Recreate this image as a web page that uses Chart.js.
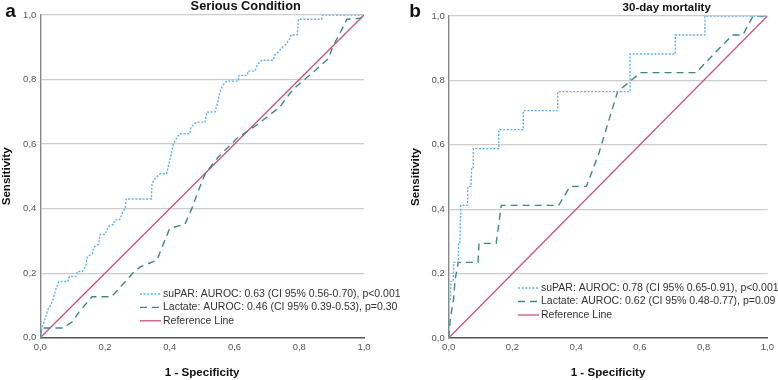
<!DOCTYPE html>
<html>
<head>
<meta charset="utf-8">
<script src="https://cdn.jsdelivr.net/npm/chart.js@4.4.1/dist/chart.umd.min.js"></script>
<style>
  html, body { margin: 0; padding: 0; background: #fff; }
  #wrap { position: relative; width: 778px; height: 380px; overflow: hidden; }
  canvas { position: absolute; top: 0; }
  #chartA { left: 0; }
  #chartB { left: 389px; }
</style>
</head>
<body>
<div id="wrap">
  <canvas id="chartA" width="430" height="380"></canvas>
  <canvas id="chartB" width="389" height="380"></canvas>
</div>
<script>
// ---- Data (1 - specificity, sensitivity) ----
const tickValues = [0, 0.2, 0.4, 0.6, 0.8, 1.0];
const tickLabels = ['0,0', '0,2', '0,4', '0,6', '0,8', '1,0'];

const seriousSuparFpr = [0, 0.005, 0.012, 0.018, 0.025, 0.032, 0.04, 0.048, 0.057, 0.085, 0.09, 0.11, 0.115, 0.13, 0.14, 0.145, 0.16, 0.165, 0.18, 0.185, 0.2, 0.21, 0.225, 0.23, 0.245, 0.255, 0.262, 0.265, 0.343, 0.345, 0.354, 0.37, 0.39, 0.4, 0.406, 0.411, 0.43, 0.462, 0.465, 0.483, 0.509, 0.514, 0.54, 0.548, 0.555, 0.563, 0.576, 0.612, 0.614, 0.64, 0.642, 0.663, 0.67, 0.684, 0.72, 0.725, 0.735, 0.746, 0.76, 0.771, 0.775, 0.794, 0.797, 0.869, 0.872, 1];
const seriousSuparTpr = [0, 0.03, 0.05, 0.07, 0.09, 0.10, 0.12, 0.15, 0.174, 0.174, 0.19, 0.19, 0.205, 0.205, 0.22, 0.25, 0.26, 0.28, 0.29, 0.32, 0.32, 0.345, 0.35, 0.365, 0.365, 0.39, 0.40, 0.43, 0.43, 0.477, 0.493, 0.508, 0.508, 0.55, 0.575, 0.601, 0.632, 0.632, 0.653, 0.668, 0.668, 0.699, 0.70, 0.73, 0.761, 0.782, 0.795, 0.795, 0.813, 0.813, 0.826, 0.826, 0.845, 0.86, 0.86, 0.877, 0.885, 0.898, 0.91, 0.927, 0.939, 0.939, 0.987, 0.987, 1.0, 1];

const seriousLactateFpr = [0, 0.003, 0.03, 0.07, 0.1, 0.12, 0.16, 0.22, 0.25, 0.29, 0.31, 0.36, 0.38, 0.40, 0.447, 0.468, 0.49, 0.51, 0.55, 0.58, 0.61, 0.67, 0.74, 0.77, 0.79, 0.84, 0.89, 0.905, 0.926, 0.947, 0.99, 1];
const seriousLactateTpr = [0, 0.03, 0.03, 0.03, 0.05, 0.08, 0.127, 0.127, 0.16, 0.205, 0.22, 0.24, 0.29, 0.339, 0.352, 0.40, 0.46, 0.51, 0.56, 0.59, 0.62, 0.66, 0.715, 0.756, 0.778, 0.82, 0.865, 0.905, 0.944, 0.987, 0.99, 1];

const mortalitySuparFpr = [0, 0, 0.005, 0.007, 0.014, 0.016, 0.03, 0.031, 0.035, 0.038, 0.059, 0.06, 0.07, 0.072, 0.077, 0.0775, 0.157, 0.157, 0.234, 0.234, 0.342, 0.342, 0.569, 0.569, 0.711, 0.711, 0.804, 0.804, 1];
const mortalitySuparTpr = [0, 0.118, 0.118, 0.176, 0.176, 0.235, 0.235, 0.294, 0.294, 0.412, 0.412, 0.471, 0.471, 0.529, 0.529, 0.588, 0.588, 0.647, 0.647, 0.706, 0.706, 0.765, 0.765, 0.882, 0.882, 0.941, 0.941, 1, 1];

const mortalityLactateFpr = [0, 0.005, 0.015, 0.02, 0.03, 0.092, 0.095, 0.149, 0.165, 0.345, 0.381, 0.432, 0.47, 0.53, 0.56, 0.602, 0.776, 0.83, 0.891, 0.923, 0.955, 1];
const mortalityLactateTpr = [0, 0.06, 0.118, 0.18, 0.235, 0.235, 0.294, 0.294, 0.412, 0.412, 0.471, 0.471, 0.57, 0.765, 0.79, 0.824, 0.824, 0.88, 0.941, 0.941, 1.0, 1];

const referenceFpr = [0, 1];
const referenceTpr = [0, 1];

const seriousLabels = [
  'suPAR: AUROC: 0.63 (CI 95% 0.56-0.70), p<0.001',
  'Lactate: AUROC: 0.46 (CI 95% 0.39-0.53), p=0.30',
  'Reference Line'
];
const mortalityLabels = [
  'suPAR: AUROC: 0.78 (CI 95% 0.65-0.91), p<0.001',
  'Lactate: AUROC: 0.62 (CI 95% 0.48-0.77), p=0.09',
  'Reference Line'
];

const FONT = '"Liberation Sans", Arial, sans-serif';
const SUPAR_COLOR = '#58b2f0';
const LACTATE_COLOR = '#3b8a7c';
const REF_COLOR = '#c9517f';

const toPoints = (xs, ys) => xs.map((x, i) => ({ x: x, y: ys[i] }));

// Title, panel letter and the in-plot legend
const panelDecor = {
  id: 'panelDecor',
  afterDraw(chart, args, opts) {
    const ctx = chart.ctx;
    ctx.save();
    ctx.fillStyle = '#111';
    ctx.textBaseline = 'alphabetic';
    ctx.textAlign = 'center';
    ctx.font = `bold ${opts.titleSize}px ${FONT}`;
    ctx.fillText(opts.title, opts.titleX, opts.titleY);

    ctx.font = `bold 19px ${FONT}`;
    ctx.fillText(opts.letter, opts.letterX, opts.letterY);

    // legend
    ctx.textAlign = 'left';
    ctx.textBaseline = 'middle';
    ctx.font = `10.5px ${FONT}`;
    chart.data.datasets.forEach((ds, i) => {
      const y = opts.legendY + i * opts.legendGap;
      ctx.save();
      ctx.strokeStyle = ds.borderColor;
      ctx.lineWidth = ds.borderWidth;
      ctx.setLineDash(ds.borderDash || []);
      ctx.beginPath();
      ctx.moveTo(opts.legendX, y);
      ctx.lineTo(opts.legendX + 21, y);
      ctx.stroke();
      ctx.restore();
      ctx.fillStyle = '#333';
      ctx.fillText(ds.label, opts.legendX + 23, y);
    });
    ctx.restore();
  }
};

function makeRocChart(canvasId, series, labels, layout, decor) {
  const ctx = document.getElementById(canvasId).getContext('2d');
  return new Chart(ctx, {
    type: 'scatter',
    data: {
      datasets: [
        {
          label: labels[0],
          data: toPoints(series[0][0], series[0][1]),
          borderColor: SUPAR_COLOR,
          borderWidth: 1.4,
          borderDash: [2, 1.6],
          showLine: true
        },
        {
          label: labels[1],
          data: toPoints(series[1][0], series[1][1]),
          borderColor: LACTATE_COLOR,
          borderWidth: 1.4,
          borderDash: [7, 5],
          showLine: true
        },
        {
          label: labels[2],
          data: toPoints(referenceFpr, referenceTpr),
          borderColor: REF_COLOR,
          borderWidth: 1.3,
          showLine: true
        }
      ]
    },
    options: {
      responsive: false,
      animation: false,
      layout: { padding: layout.padding },
      elements: { point: { radius: 0, hoverRadius: 0 }, line: { tension: 0 } },
      plugins: {
        legend: { display: false },
        tooltip: { enabled: false },
        panelDecor: decor
      },
      scales: {
        x: {
          type: 'linear',
          min: 0,
          max: 1,
          afterBuildTicks: (scale) => { scale.ticks = tickValues.map(v => ({ value: v })); },
          afterFit: (scale) => { scale.height = layout.xHeight; },
          grid: { display: false, drawTicks: false },
          border: { display: true, color: '#555', width: 1.6 },
          ticks: {
            padding: 4,
            color: '#555',
            font: { family: FONT, size: 9.5 },
            callback: (v, i) => tickLabels[i]
          },
          title: {
            display: true,
            text: '1 - Specificity',
            color: '#111',
            font: { family: FONT, size: 11.6, weight: 'bold' },
            padding: { top: 1, bottom: 0 }
          }
        },
        y: {
          type: 'linear',
          min: 0,
          max: 1,
          afterBuildTicks: (scale) => { scale.ticks = tickValues.map(v => ({ value: v })); },
          afterFit: (scale) => { scale.width = layout.yWidth; },
          grid: {
            color: (c) => (c.tick && c.tick.value === 0 ? 'rgba(0,0,0,0)' : '#cccccc'),
            lineWidth: 1.2,
            drawTicks: false
          },
          border: { display: true, color: '#888', width: 1.4 },
          ticks: {
            padding: 4,
            color: '#555',
            font: { family: FONT, size: 9.5 },
            callback: (v, i) => tickLabels[i]
          },
          title: {
            display: true,
            text: 'Sensitivity',
            color: '#111',
            font: { family: FONT, size: 11.6, weight: 'bold' },
            padding: { top: 0, bottom: 0 }
          }
        }
      }
    },
    plugins: [panelDecor]
  });
}

// panel a canvas is wider than its half so the legend text can run past it
makeRocChart(
  'chartA',
  [[seriousSuparFpr, seriousSuparTpr], [seriousLactateFpr, seriousLactateTpr]],
  seriousLabels,
  { padding: { left: 0, right: 66, top: 15, bottom: 0 }, xHeight: 42.3, yWidth: 40.3 },
  { title: 'Serious Condition', titleSize: 12.8, titleX: 245.7, titleY: 9.6,
    letter: 'a', letterX: 10.5, letterY: 16.5,
    legendX: 140, legendY: 294, legendGap: 13.4 }
);

makeRocChart(
  'chartB',
  [[mortalitySuparFpr, mortalitySuparTpr], [mortalityLactateFpr, mortalityLactateTpr]],
  mortalityLabels,
  { padding: { left: 19.7, right: 6.3, top: 16, bottom: 0 }, xHeight: 42, yWidth: 40 },
  { title: '30-day mortality', titleSize: 11.5, titleX: 277.7, titleY: 11,
    letter: 'b', letterX: 26, letterY: 16.5,
    legendX: 129, legendY: 288, legendGap: 13.5 }
);
</script>
</body>
</html>
